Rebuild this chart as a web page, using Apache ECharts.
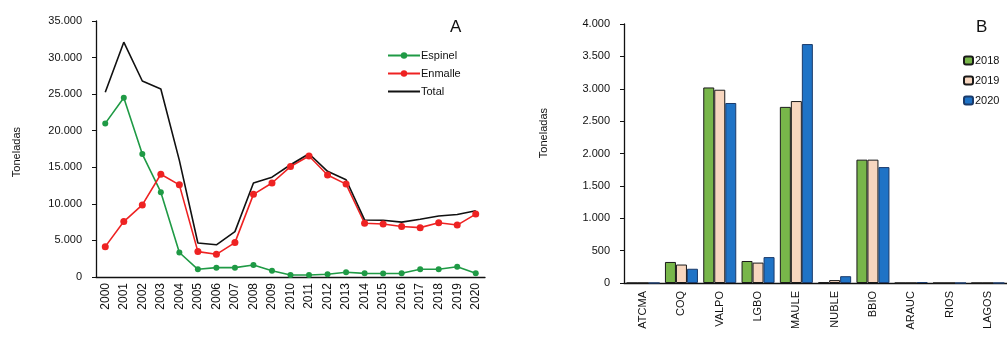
<!DOCTYPE html>
<html>
<head>
<meta charset="utf-8">
<script src="https://cdn.jsdelivr.net/npm/echarts@6/dist/echarts.min.js"></script>
<style>
  html, body { margin: 0; padding: 0; background: #fff; }
  #container { width: 1007px; height: 337px; }
</style>
</head>
<body>
<div id="container"></div>
<script>
// panel A: landings per year
const years = ["2000", "2001", "2002", "2003", "2004", "2005", "2006", "2007", "2008", "2009",
  "2010", "2011", "2012", "2013", "2014", "2015", "2016", "2017", "2018", "2019", "2020"];
const espinel = [21000, 24500, 16800, 11600, 3350, 1050, 1280, 1280, 1640, 850,
  280, 270, 380, 640, 500, 480, 500, 1050, 1050, 1400, 500];
const enmalle = [4150, 7580, 9850, 14050, 12600, 3470, 3100, 4700, 11300, 12850,
  15100, 16550, 13950, 12700, 7350, 7250, 6900, 6750, 7420, 7100, 8600];
const total = [25250, 32100, 26800, 25700, 15950, 4650, 4400, 6200, 12850, 13650,
  15350, 16850, 14450, 13300, 7800, 7750, 7500, 7900, 8350, 8550, 9050];

// panel B: landings per region
const regions = ["ATCMA", "COQ", "VALPO", "LGBO", "MAULE", "NUBLE", "BBIO", "ARAUC", "RIOS", "LAGOS"];
const y2018 = [0, 325, 3020, 340, 2720, 10, 1905, 0, 0, 0];
const y2019 = [0, 285, 2985, 315, 2810, 45, 1905, 0, 0, 0];
const y2020 = [0, 220, 2780, 400, 3690, 105, 1790, 15, 0, 0];

const FONT = "Liberation Sans";
const fmt = function (v) {
  return String(v).replace(/\B(?=(\d{3})+(?!\d))/g, ".");
};

function axisCommon() {
  return {
    axisLine: { lineStyle: { color: "#111", width: 1.3 } },
    axisTick: { lineStyle: { color: "#111" }, length: 4 },
    splitLine: { show: false }
  };
}

let myChart = echarts.init(document.getElementById("container"));
let option = {
  backgroundColor: "#fff",
  animation: false,
  textStyle: { fontFamily: FONT },
  title: [
    { text: "A", left: 445, top: 14, textStyle: { fontSize: 17, fontWeight: "normal", color: "#111" } },
    { text: "B", left: 971, top: 14, textStyle: { fontSize: 17, fontWeight: "normal", color: "#111" } }
  ],
  legend: [
    {
      data: ["Espinel", "Enmalle", { name: "Total", itemStyle: { opacity: 0 } }],
      orient: "vertical",
      left: 382,
      top: 45,
      itemWidth: 32,
      itemHeight: 8,
      itemGap: 7,
      textStyle: { fontSize: 11, color: "#111", padding: [0, 0, 0, -4] }
    },
    {
      data: ["2018", "2019", "2020"],
      orient: "vertical",
      left: 958,
      top: 50,
      itemWidth: 9,
      itemHeight: 8,
      itemGap: 9,
      textStyle: { fontSize: 11, color: "#111", padding: [0, 0, 0, -3] }
    }
  ],
  graphic: [
    { type: "text", left: 11, top: 127, rotation: Math.PI / 2,
      style: { text: "Toneladas", fontSize: 11, fill: "#111", fontFamily: FONT } },
    { type: "text", left: 538, top: 108, rotation: Math.PI / 2,
      style: { text: "Toneladas", fontSize: 11, fill: "#111", fontFamily: FONT } }
  ],
  grid: [
    { left: 96, right: 522, top: 21, bottom: 60 },
    { left: 624, right: -10, top: 24, bottom: 54 }
  ],
  xAxis: [
    Object.assign(axisCommon(), {
      type: "category",
      gridIndex: 0,
      data: years,
      axisLabel: { rotate: 90, fontSize: 12, color: "#111", margin: 6 }
    }),
    Object.assign(axisCommon(), {
      type: "category",
      gridIndex: 1,
      data: regions,
      axisLabel: { rotate: 90, fontSize: 11, color: "#111", margin: 8 }
    })
  ],
  yAxis: [
    Object.assign(axisCommon(), {
      type: "value",
      gridIndex: 0,
      min: 0,
      max: 35000,
      interval: 5000,
      axisLine: { show: true, lineStyle: { color: "#111", width: 1.3 } },
      axisTick: { show: true, lineStyle: { color: "#111" }, length: 4 },
      axisLabel: { fontSize: 11, color: "#111", margin: 14, formatter: fmt }
    }),
    Object.assign(axisCommon(), {
      type: "value",
      gridIndex: 1,
      min: 0,
      max: 4000,
      interval: 500,
      axisLine: { show: true, lineStyle: { color: "#111", width: 1.3 } },
      axisTick: { show: true, lineStyle: { color: "#111" }, length: 4 },
      axisLabel: { fontSize: 11, color: "#111", margin: 14, formatter: fmt }
    })
  ],
  series: [
    {
      name: "Espinel", type: "line", xAxisIndex: 0, yAxisIndex: 0,
      data: espinel, symbol: "circle", symbolSize: 6,
      itemStyle: { color: "#1f9a45" }, lineStyle: { color: "#1f9a45", width: 1.6 }
    },
    {
      name: "Enmalle", type: "line", xAxisIndex: 0, yAxisIndex: 0,
      data: enmalle, symbol: "circle", symbolSize: 7,
      itemStyle: { color: "#ee2222" }, lineStyle: { color: "#ee2222", width: 1.6 }
    },
    {
      name: "Total", type: "line", xAxisIndex: 0, yAxisIndex: 0,
      data: total, symbol: "none",
      itemStyle: { color: "#111" }, lineStyle: { color: "#111", width: 1.6 }
    },
    {
      name: "2018", type: "bar", xAxisIndex: 1, yAxisIndex: 1,
      data: y2018, barWidth: 11, barGap: 0,
      itemStyle: { color: "#78b64a", borderColor: "#1a1a1a", borderWidth: 1 }
    },
    {
      name: "2019", type: "bar", xAxisIndex: 1, yAxisIndex: 1,
      data: y2019, barWidth: 11, barGap: 0,
      itemStyle: { color: "#f7d6bf", borderColor: "#1a1a1a", borderWidth: 1 }
    },
    {
      name: "2020", type: "bar", xAxisIndex: 1, yAxisIndex: 1,
      data: y2020, barWidth: 11, barGap: 0,
      itemStyle: { color: "#1f73c6", borderColor: "#1a3a6a", borderWidth: 1 }
    }
  ]
};
if (option && typeof option === "object") {
  myChart.setOption(option);
}
window.addEventListener("resize", myChart.resize);
</script>
</body>
</html>
